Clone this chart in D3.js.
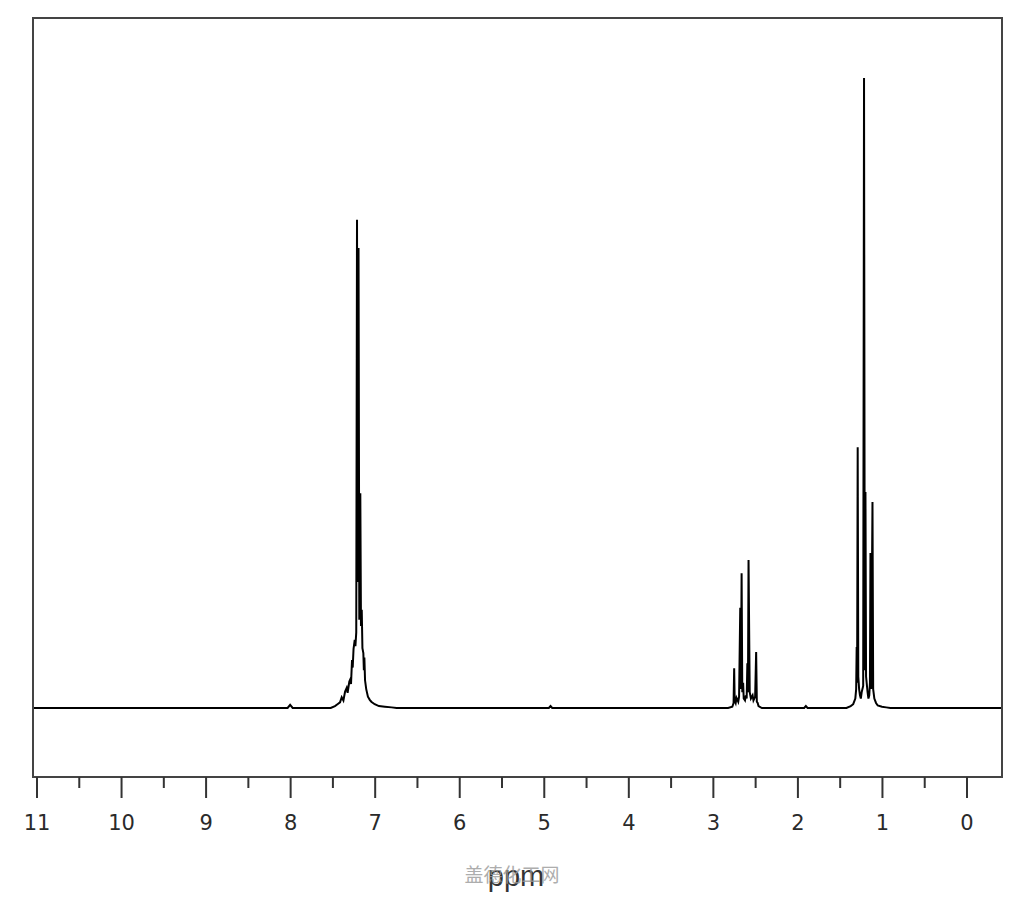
<!DOCTYPE html>
<html>
<head>
<meta charset="utf-8">
<script src="https://cdn.jsdelivr.net/npm/d3@7"></script>
<style>
  body { margin: 0; background: #fff; }
  svg { display: block; }
</style>
</head>
<body>
<svg width="1024" height="900"></svg>
<script>
// spectrum pieces: [ppm, relative intensity] (tallest line = 100)
const minorBumps = [
  [8.03, 0], [8.0, 0.5], [7.97, 0],
  [4.94, 0], [4.92, 0.3], [4.90, 0],
  [1.92, 0], [1.90, 0.3], [1.88, 0]
];

const aromaticTrace = [
  [7.52, 0], [7.47, 0.3], [7.44, 0.6], [7.41, 0.9], [7.39, 1.7], [7.37, 1.2],
  [7.35, 2.6], [7.331, 3.2], [7.32, 2.4], [7.30, 4.2], [7.287, 4.6], [7.28, 3.8],
  [7.268, 7.6], [7.26, 6.4], [7.25, 9.4], [7.236, 10.8], [7.228, 9.8], [7.218, 12],
  [7.209, 77.5], [7.200, 20], [7.191, 73.0], [7.182, 14], [7.170, 34.1],
  [7.162, 13], [7.153, 15.6], [7.145, 9.5], [7.134, 8.7], [7.128, 6], [7.122, 8.0],
  [7.114, 4.4], [7.10, 3.0], [7.08, 1.8], [7.058, 1.3], [7.04, 1.0], [7.00, 0.6],
  [6.95, 0.3], [6.88, 0.2], [6.80, 0.1], [6.74, 0]
];

const quartetTrace = [
  [2.82, 0], [2.77, 0.2], [2.755, 0.8], [2.748, 6.3], [2.742, 1.2], [2.73, 0.8],
  [2.72, 1.6], [2.70, 1.0], [2.69, 1.8], [2.676, 15.9], [2.668, 3.0], [2.660, 21.4],
  [2.652, 2.5], [2.642, 4.0], [2.635, 1.5], [2.62, 1.2], [2.61, 2.0], [2.60, 1.5],
  [2.592, 7.1], [2.585, 2.5], [2.578, 23.5], [2.571, 12.7], [2.564, 2.5],
  [2.55, 1.5], [2.53, 2.0], [2.52, 1.2], [2.50, 1.8], [2.488, 8.9], [2.480, 1.0],
  [2.47, 0.8], [2.46, 0.3], [2.42, 0]
];

const tripletTrace = [
  [1.42, 0], [1.37, 0.3], [1.34, 0.6], [1.315, 1.5], [1.305, 3.0], [1.299, 9.7],
  [1.294, 4.0], [1.287, 41.4], [1.280, 5.0], [1.27, 3.0], [1.26, 2.0], [1.25, 1.5],
  [1.24, 2.5], [1.222, 3.5], [1.212, 100], [1.203, 6.0], [1.195, 34.3], [1.188, 5.0],
  [1.17, 2.5], [1.16, 1.5], [1.15, 2.0], [1.142, 4.0], [1.136, 24.6], [1.128, 3.0],
  [1.112, 32.7], [1.104, 3.0], [1.09, 1.5], [1.07, 0.8], [1.05, 0.4], [1.00, 0.2],
  [0.95, 0.1], [0.90, 0]
];

const majorTicks = [11, 10, 9, 8, 7, 6, 5, 4, 3, 2, 1, 0];
const minorTicks = [10.5, 9.5, 8.5, 7.5, 6.5, 5.5, 4.5, 3.5, 2.5, 1.5, 0.5];
const axisTitle = "ppm";
const watermark = "盖德化工网";

var svg = d3.select("svg");

// frame of the plot
var frame = { left: 33, top: 18, right: 1002, bottom: 777 };

// ppm runs right to left
var x = d3.scaleLinear().domain([11, 0]).range([36.5, 966.5]);
var y = d3.scaleLinear().domain([0, 100]).range([708, 78]);

svg.append("rect")
    .attr("x", frame.left)
    .attr("y", frame.top)
    .attr("width", frame.right - frame.left)
    .attr("height", frame.bottom - frame.top)
    .attr("fill", "none")
    .attr("stroke", "#444")
    .attr("stroke-width", 2);

// whole trace, left edge to right edge
var trace = [[x.invert(frame.left + 1), 0]]
    .concat(minorBumps.slice(0, 3), aromaticTrace, minorBumps.slice(3, 6),
            quartetTrace, minorBumps.slice(6), tripletTrace)
    .concat([[x.invert(frame.right - 1), 0]]);

var line = d3.line()
    .x(d => x(d[0]))
    .y(d => y(d[1]));

svg.append("path")
    .datum(trace)
    .attr("fill", "none")
    .attr("stroke", "#000")
    .attr("stroke-width", 2)
    .attr("stroke-linejoin", "miter")
    .attr("d", line);

// x axis under the frame
var axis = svg.append("g")
    .attr("transform", "translate(0," + frame.bottom + ")");

axis.append("g")
    .call(d3.axisBottom(x).tickValues(minorTicks).tickSize(11).tickFormat(""))
    .call(g => g.select(".domain").remove())
    .selectAll("line")
    .attr("stroke", "#333")
    .attr("stroke-width", 2);

axis.append("g")
    .call(d3.axisBottom(x).tickValues(majorTicks).tickSize(21).tickFormat(d3.format("d")))
    .call(g => g.select(".domain").remove())
    .call(g => g.selectAll("line").attr("stroke", "#333").attr("stroke-width", 2))
    .call(g => g.selectAll("text")
        .attr("y", 53)
        .attr("dy", 0)
        .attr("fill", "#2a2a2a")
        .style("font-family", "DejaVu Sans, sans-serif")
        .style("font-size", "21px"));

svg.append("text")
    .attr("x", 516)
    .attr("y", 886)
    .attr("text-anchor", "middle")
    .style("font-family", "Liberation Sans, Arial, sans-serif")
    .style("font-size", "29px")
    .attr("fill", "#333")
    .text(axisTitle);

svg.append("text")
    .attr("x", 512)
    .attr("y", 882)
    .attr("text-anchor", "middle")
    .style("font-family", "Noto Sans CJK SC, sans-serif")
    .style("font-size", "19px")
    .attr("fill", "#999")
    .attr("opacity", 0.8)
    .text(watermark);
</script>
</body>
</html>
